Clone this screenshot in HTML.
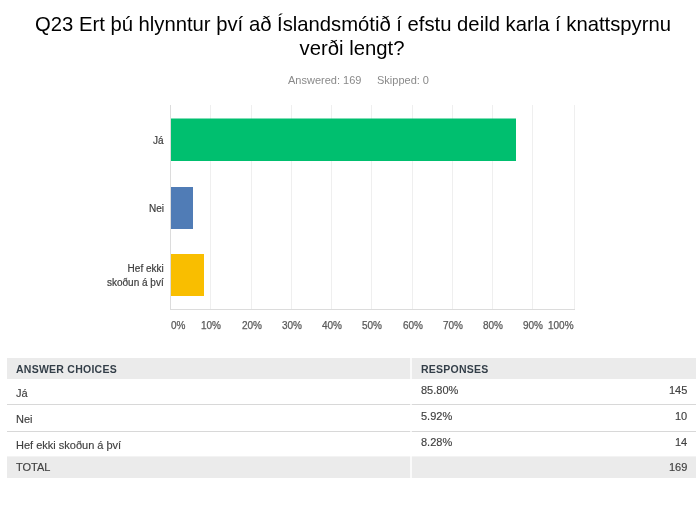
<!DOCTYPE html>
<html><head><meta charset="utf-8">
<style>
*{margin:0;padding:0;box-sizing:border-box}
html,body{width:700px;height:528px;background:#fff;overflow:hidden;font-family:"Liberation Sans",sans-serif;position:relative}
.abs{position:absolute;white-space:nowrap;will-change:transform}
#t1,#t2{left:2px;width:700px;text-align:center;font-size:20.3px;color:#000;line-height:23px}
#t1{top:13px;left:3px;font-size:20.25px}
#t2{top:37px}
#sub{top:73px;font-size:11px;color:#8a8a8a;line-height:14px}
.grid{position:absolute;top:105px;height:204px;width:1px;background:#efefef}
#axisL{position:absolute;left:170px;top:105px;width:1px;height:205px;background:#dcdcdc}
#axisB{position:absolute;left:170px;top:309px;width:405px;height:1px;background:#dcdcdc}
.bar{position:absolute;left:171px;height:42px}
.lab{font-size:10px;color:#404040;-webkit-text-stroke:0.2px #404040;text-align:right;line-height:14.5px}
.xl{top:320px;font-size:10px;color:#5a5a5a;-webkit-text-stroke:0.25px #5a5a5a;line-height:12px}
.xc{width:40px;text-align:center}
.tbl{position:absolute;left:7px;width:689px}
.hdr{position:absolute;background:#ebebeb}
.th{font-size:10.5px;font-weight:bold;color:#333e48;letter-spacing:0.25px}
.td{font-size:11px;color:#404040;-webkit-text-stroke:0.15px #404040}
.sep{position:absolute;height:1px;background:#d8d8d8}
.vsep{position:absolute;width:2px;background:rgba(255,255,255,.75)}
</style></head><body>
<div id="t1" class="abs">Q23 Ert þú hlynntur því að Íslandsmótið í efstu deild karla í knattspyrnu</div>
<div id="t2" class="abs">verði lengt?</div>
<div id="sub" class="abs" style="left:287.5px">Answered: 169</div>
<div id="sub2" class="abs" style="left:377px;top:73px;font-size:11px;color:#8a8a8a;line-height:14px">Skipped: 0</div>

<div class="grid" style="left:210px"></div>
<div class="grid" style="left:251px"></div>
<div class="grid" style="left:291px"></div>
<div class="grid" style="left:331px"></div>
<div class="grid" style="left:371px"></div>
<div class="grid" style="left:412px"></div>
<div class="grid" style="left:452px"></div>
<div class="grid" style="left:492px"></div>
<div class="grid" style="left:532px"></div>
<div class="grid" style="left:574px"></div>
<div id="axisL"></div>
<div id="axisB"></div>

<div class="bar" style="top:118px;height:43px;width:345px;background:linear-gradient(to bottom,rgba(0,191,111,.5) 0,rgba(0,191,111,.5) 1px,#00bf6f 1px)"></div>
<div class="bar" style="top:187px;width:22px;background:#507cb6"></div>
<div class="bar" style="top:254px;width:33px;background:#f9be00"></div>

<div class="abs lab" style="right:536px;top:134px">Já</div>
<div class="abs lab" style="right:536px;top:202px">Nei</div>
<div class="abs lab" style="right:536px;top:261.5px;line-height:14px">Hef ekki<br>skoðun á því</div>

<div class="abs xl" style="left:171px">0%</div>
<div class="abs xl xc" style="left:190.5px">10%</div>
<div class="abs xl xc" style="left:231.5px">20%</div>
<div class="abs xl xc" style="left:271.5px">30%</div>
<div class="abs xl xc" style="left:311.5px">40%</div>
<div class="abs xl xc" style="left:351.5px">50%</div>
<div class="abs xl xc" style="left:392.5px">60%</div>
<div class="abs xl xc" style="left:432.5px">70%</div>
<div class="abs xl xc" style="left:472.5px">80%</div>
<div class="abs xl xc" style="left:512.5px">90%</div>
<div class="abs xl" style="right:126px">100%</div>

<div class="hdr" style="left:7px;top:358px;width:689px;height:21px"></div>
<div class="hdr" style="left:7px;top:456px;width:689px;height:22px;background:linear-gradient(to bottom,#f3f3f3 0,#f3f3f3 1px,#ebebeb 1px)"></div>
<div class="sep" style="left:7px;top:404px;width:689px"></div>
<div class="sep" style="left:7px;top:431px;width:689px"></div>
<div class="vsep" style="left:410px;top:358px;height:120px"></div>

<div class="abs th" style="left:16px;top:363px">ANSWER CHOICES</div>
<div class="abs th" style="left:421px;top:363px">RESPONSES</div>
<div class="abs td" style="left:16px;top:387px">Já</div>
<div class="abs td" style="left:421px;top:384px">85.80%</div>
<div class="abs td" style="right:13px;top:384px">145</div>
<div class="abs td" style="left:16px;top:413px">Nei</div>
<div class="abs td" style="left:421px;top:410px">5.92%</div>
<div class="abs td" style="right:13px;top:410px">10</div>
<div class="abs td" style="left:16px;top:439px">Hef ekki skoðun á því</div>
<div class="abs td" style="left:421px;top:436px">8.28%</div>
<div class="abs td" style="right:13px;top:436px">14</div>
<div class="abs td" style="left:16px;top:461px">TOTAL</div>
<div class="abs td" style="right:13px;top:461px">169</div>
</body></html>
